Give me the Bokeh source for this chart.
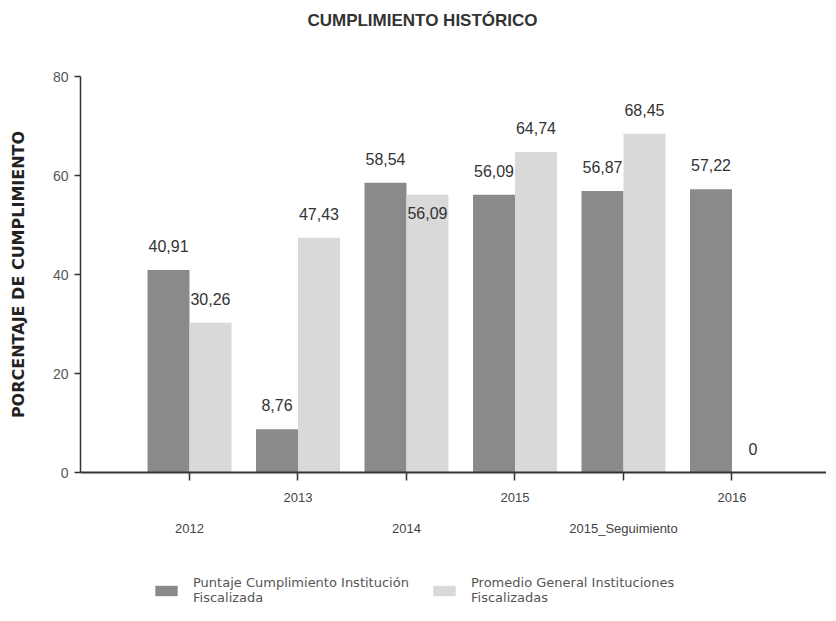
from bokeh.plotting import figure
from bokeh.layouts import column
from bokeh.models import (ColumnDataSource, FixedTicker, LinearAxis, Label,
                          Legend, LegendItem, Range1d)
from bokeh.core.properties import value
from bokeh.transform import dodge
from bokeh.embed import file_html
from bokeh.resources import INLINE

# ---- data ----
categories = ["2012", "2013", "2014", "2015", "2015_Seguimiento", "2016"]
puntaje = [40.91, 8.76, 58.54, 56.09, 56.87, 57.22]
promedio = [30.26, 47.43, 56.09, 64.74, 68.45, 0]
series_names = ["Puntaje Cumplimiento Institución\nFiscalizada",
                "Promedio General Instituciones\nFiscalizadas"]
title_text = "CUMPLIMIENTO HISTÓRICO"
y_title = "PORCENTAJE DE CUMPLIMIENTO"
y_ticks = [0, 20, 40, 60, 80]

# ---- styles ----
DARK = "#8a8a8a"
LIGHT = "#d9d9d9"
OFF = 0.1935
BAR_W = 0.387
label_dy_p = [-24, -24, -24, -24, -24, -24]
label_dy_q = [-24, -24, 18, -24, -24, -24]
FONT = "Liberation Sans"
W = 826
TH = 37    # title strip height
PH = 507   # chart height
LH = 61    # legend strip height


def fmt(v):
    return "0" if v == 0 else f"{v:.2f}".replace(".", ",")


idx = list(range(len(categories)))
src = ColumnDataSource(dict(
    idx=idx, puntaje=puntaje, promedio=promedio,
    lab_p=[fmt(v) for v in puntaje], lab_q=[fmt(v) for v in promedio],
    off_p=label_dy_p, off_q=label_dy_q))


def strip(h):
    f = figure(width=W, height=h, output_backend="svg", toolbar_location=None,
               x_range=Range1d(0, 1), y_range=Range1d(0, 1),
               x_axis_type=None, y_axis_type=None, min_border=0)
    f.outline_line_color = None
    f.xgrid.visible = False
    f.ygrid.visible = False
    return f


# ---- title strip ----
t = strip(TH)
t.add_layout(Label(x=342, y=TH - 20, x_units="screen", y_units="screen",
                   text=title_text, text_align="center", text_baseline="middle",
                   text_font=FONT, text_font_style="bold", text_font_size="17px",
                   text_color="#333333"))

# ---- chart ----
p = figure(width=W, height=PH, output_backend="svg", toolbar_location=None,
           x_range=Range1d(-1.0046, 5.871), y_range=Range1d(0, 80),
           min_border_left=80, min_border_right=0, min_border_top=76 - TH,
           min_border_bottom=72)
p.outline_line_color = None
p.xgrid.visible = False
p.ygrid.visible = False

# y axis
ya = p.yaxis[0]
ya.ticker = FixedTicker(ticks=y_ticks, minor_ticks=[])
ya.major_tick_out = 6
ya.major_tick_in = 0
ya.minor_tick_line_color = None
ya.axis_line_color = "#333333"
ya.axis_line_width = 1.5
ya.major_tick_line_color = "#333333"
ya.major_tick_line_width = 1.5
ya.major_label_standoff = 6
ya.major_label_text_font = FONT
ya.major_label_text_font_size = "14px"
ya.major_label_text_color = "#555555"
ya.axis_label = y_title
ya.axis_label_text_font = "DejaVu Sans"
ya.axis_label_text_font_style = "bold"
ya.axis_label_text_font_size = "16px"
ya.axis_label_text_color = "#222222"
ya.axis_label_standoff = 22

# x axis (upper row of labels)
xa = p.xaxis[0]
xa.ticker = FixedTicker(ticks=idx, minor_ticks=[])
xa.major_label_overrides = {i: (c if i % 2 == 1 else "") for i, c in zip(idx, categories)}
xa.major_tick_out = 8
xa.major_tick_in = 0
xa.minor_tick_line_color = None
xa.axis_line_color = "#333333"
xa.axis_line_width = 2
xa.major_tick_line_color = "#333333"
xa.major_tick_line_width = 1.5
xa.major_label_standoff = 12
xa.major_label_text_font = FONT
xa.major_label_text_font_size = "13px"
xa.major_label_text_color = "#444444"

# second x axis (lower row of labels)
xa2 = LinearAxis(ticker=FixedTicker(ticks=idx, minor_ticks=[]),
                 major_label_overrides={i: (c if i % 2 == 0 else "") for i, c in zip(idx, categories)},
                 axis_line_color=None, major_tick_line_color=None,
                 minor_tick_line_color=None, major_tick_out=0, major_tick_in=0,
                 major_label_standoff=16,
                 major_label_text_font=FONT,
                 major_label_text_font_size="13px",
                 major_label_text_color="#444444")
p.add_layout(xa2, "below")

# bars
p.vbar(x=dodge("idx", -OFF, range=None), top="puntaje", width=BAR_W,
       source=src, fill_color=DARK, line_color=None)
p.vbar(x=dodge("idx", OFF, range=None), top="promedio", width=BAR_W,
       source=src, fill_color=LIGHT, line_color=None)

# value labels
for dx, lab, off, ycol in ((-OFF, "lab_p", "off_p", "puntaje"),
                           (OFF, "lab_q", "off_q", "promedio")):
    p.text(x=dodge("idx", dx, range=None), y=ycol, text=lab, y_offset=off,
           source=src, text_align="center", text_baseline="middle",
           text_font=value(FONT), text_font_size="16px", text_color="#333333")

# ---- legend strip ----
q = strip(LH)
s1 = q.vbar(x="idx", top=0, bottom=0, width=0.01, source=src,
            fill_color=DARK, line_color=None)
s2 = q.vbar(x="idx", top=0, bottom=0, width=0.01, source=src,
            fill_color=LIGHT, line_color=None)
leg = Legend(items=[LegendItem(label=series_names[0], renderers=[s1]),
                    LegendItem(label=series_names[1], renderers=[s2])],
             orientation="horizontal", location=(72, 0),
             glyph_width=28, glyph_height=13, label_text_font="DejaVu Sans",
             label_text_font_size="13px", label_text_color="#555555",
             label_standoff=13, label_width=237, spacing=0,
             padding=0, margin=0, border_line_color=None,
             background_fill_alpha=0, label_text_line_height=1.3)
q.add_layout(leg)

open("out.html", "w").write(file_html(column(t, p, q, spacing=0), INLINE))
